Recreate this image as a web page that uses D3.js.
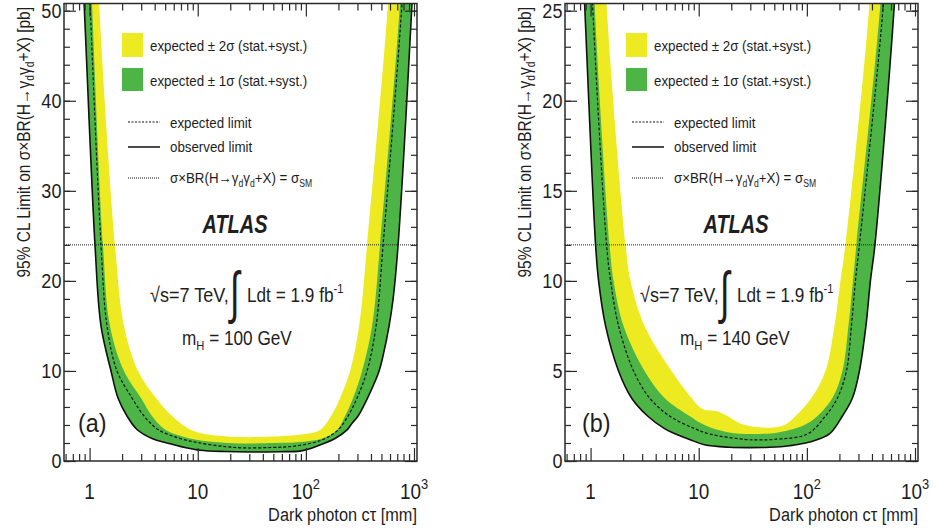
<!DOCTYPE html>
<html>
<head>
<meta charset="utf-8">
<script src="https://cdn.jsdelivr.net/npm/d3@7"></script>
<style>
body { margin: 0; background: #fff; }
svg text { font-family: "Liberation Sans", Arial, sans-serif; fill: #1e1e1e; }
</style>
</head>
<body>
<svg id="chart" width="933" height="532"></svg>
<script>
// curves are [c*tau (mm), limit (pb)]

// panel (a), m_H = 100 GeV
var obsA = [[0.80, 62], [0.888, 51], [1.122, 24], [1.275, 15], [1.578, 10], [1.831, 7], [2.218, 5], [2.745, 3.5], [3.778, 2.5], [5.2, 2.0], [7.63, 1.5], [10.5, 1.2], [17.88, 1.05], [30.46, 1.0], [57.72, 1.03], [88.36, 1.1], [104.8, 1.3], [129.7, 1.7], [186.3, 2.5], [240.5, 3.45], [267.6, 4.2], [304.1, 5], [392.6, 7.6], [475.6, 10], [517.9, 11.7], [588.5, 15], [640.9, 18], [712.7, 24], [960.3, 51], [1060, 62]];
var expA = [[0.93, 62], [1.009, 51], [1.275, 24], [1.449, 15], [1.793, 10], [2.467, 7], [3.186, 5], [4.293, 3.5], [6.862, 2.5], [10.5, 2.0], [17.88, 1.6], [27.39, 1.45], [46.65, 1.5], [71.42, 1.6], [114.1, 2.0], [150.5, 2.5], [198.6, 3.45], [245.7, 5], [297.6, 7], [368.3, 10], [446.1, 15], [517.9, 24], [776, 51], [860, 62]];
var up1A = [[0.97, 62], [1.052, 51], [1.330, 24], [1.544, 15], [2.080, 10], [2.988, 7], [3.778, 5], [4.984, 3.5], [8.487, 2.5], [14.45, 2.1], [24.62, 1.95], [51.89, 2.0], [88.36, 2.1], [141.2, 2.5], [194.4, 3.45], [230.5, 5], [273.4, 7], [331.2, 10], [409.7, 15], [485.9, 24], [743.6, 51], [820, 62]];
var up2A = [[1.12, 62], [1.222, 51], [1.718, 24], [2.080, 15], [2.804, 10], [4.114, 7], [5.785, 5], [8.487, 3.5], [11.68, 3.0], [17.88, 2.75], [30.46, 2.65], [57.72, 2.75], [98.3, 3.0], [135.3, 3.45], [171.1, 5], [207.3, 7], [256.4, 10], [310.7, 15], [368.3, 24], [576, 51], [640, 62]];
var smA = 24;

// panel (b), m_H = 140 GeV
var obsB = [[0.80, 31], [0.880, 25.4], [1.112, 12], [1.186, 10], [1.376, 7.5], [1.814, 5], [2.393, 3.5], [3.364, 2.5], [4.83, 1.8], [6.10, 1.5], [8.22, 1.2], [11.31, 0.9], [19.26, 0.76], [29.5, 0.74], [45.1, 0.76], [69.1, 0.85], [105.7, 1.05], [161.8, 1.5], [213.3, 2.5], [264, 3.5], [306.3, 5], [351.8, 7.5], [387, 10], [426, 12], [645, 25.4], [720, 31]];
var expB = [[0.97, 31], [1.043, 25.4], [1.406, 12], [1.531, 10], [1.814, 7.5], [2.497, 5], [3.511, 3.5], [5.37, 2.5], [9.15, 1.8], [12.58, 1.5], [26.5, 1.2], [36.5, 1.17], [50, 1.2], [101.3, 1.5], [148.6, 2.5], [191.8, 3.5], [232.3, 5], [258.4, 7.5], [281.3, 10], [306.3, 12], [510.6, 25.4], [580, 31]];
var up1B = [[1.02, 31], [1.089, 25.4], [1.498, 12], [1.632, 10], [2.018, 7.5], [3.156, 5], [4.83, 3.5], [8.22, 2.5], [11.31, 2.0], [18.46, 1.6], [32.8, 1.5], [55.8, 1.6], [95, 2.0], [125.3, 2.5], [172.4, 3.5], [213.3, 5], [242.4, 7.5], [266.8, 10], [287.3, 12], [478.8, 25.4], [540, 31]];
var up2B = [[1.3, 31], [1.406, 25.4], [2.106, 12], [2.343, 10], [3.156, 7.5], [5.61, 5], [8.58, 3.5], [10.17, 3.0], [11.31, 2.85], [13.13, 2.8], [14.92, 2.75], [18.46, 2.5], [23.83, 2.1], [32.8, 1.9], [45.1, 1.85], [62.1, 2.0], [78.5, 2.5], [110.3, 3.5], [148.6, 5], [179.9, 7.5], [204.4, 10], [227.5, 12], [379, 25.4], [420, 31]];
var smB = 12;

var xMajor = [1, 10, 100, 1000];
var xLabels = [["1", ""], ["10", ""], ["10", "2"], ["10", "3"]];
var xMinor = [0.6, 0.7, 0.8, 0.9, 2, 3, 4, 5, 6, 7, 8, 9, 20, 30, 40, 50, 60, 70, 80, 90, 200, 300, 400, 500, 600, 700, 800, 900];
var yMajorA = [0, 10, 20, 30, 40, 50];
var yMajorB = [0, 5, 10, 15, 20, 25];

var YELLOW = "#eeea22", GREEN = "#4db545", INK = "#2a2a2a";
var SQ = 0.86; // the original Helvetica is narrower than Liberation Sans

var svg = d3.select("#chart");
var L = 64, R = 417, T = 3.5, B = 461;

// text squeezed horizontally around its anchor
function label(parent, x, y, size, anchor, sq) {
  return parent.append("text")
    .attr("transform", "translate(" + x + "," + y + ") scale(" + (sq || SQ) + ",1)")
    .attr("font-size", size)
    .attr("text-anchor", anchor || "start");
}

function drawPanel(dx, id, cfg) {
  var g = svg.append("g").attr("transform", "translate(" + dx + ",0)");

  var x = d3.scaleLog().domain([0.58, 1066]).range([L, R]);
  var y = d3.scaleLinear().domain([0, cfg.ymax]).range([B, T]);

  g.append("clipPath").attr("id", id)
    .append("rect").attr("x", L).attr("y", T).attr("width", R - L).attr("height", B - T);

  var line = d3.line()
    .x(function(d) { return x(d[0]); })
    .y(function(d) { return y(d[1]); })
    .curve(d3.curveCatmullRom.alpha(0.5));

  function band(outer, inner) {
    return line(outer) + "L" + line(inner.slice().reverse()).substring(1) + "Z";
  }

  var plot = g.append("g").attr("clip-path", "url(#" + id + ")");
  plot.append("path").attr("d", band(cfg.obs, cfg.up2)).attr("fill", YELLOW);
  plot.append("path").attr("d", band(cfg.obs, cfg.up1)).attr("fill", GREEN);
  plot.append("path").attr("d", line(cfg.exp)).attr("fill", "none")
    .attr("stroke", "#111").attr("stroke-width", 1.2).attr("stroke-dasharray", "3,2");
  plot.append("path").attr("d", line(cfg.obs)).attr("fill", "none")
    .attr("stroke", "#111").attr("stroke-width", 1.6);
  plot.append("line").attr("x1", L).attr("x2", R)
    .attr("y1", y(cfg.sm)).attr("y2", y(cfg.sm))
    .attr("stroke", "#222").attr("stroke-width", 1).attr("stroke-dasharray", "1,1");

  // axes, ROOT style ticks inside on all four sides
  function tidy(sel) {
    sel.select(".domain").remove();
    sel.selectAll(".tick line").attr("stroke", INK).attr("stroke-width", 1.2);
  }
  g.append("g").attr("transform", "translate(0," + B + ")")
    .call(d3.axisBottom(x).tickValues(xMajor).tickSize(-13).tickFormat("")).call(tidy);
  g.append("g").attr("transform", "translate(0," + B + ")")
    .call(d3.axisBottom(x).tickValues(xMinor).tickSize(-7).tickFormat("")).call(tidy);
  g.append("g").attr("transform", "translate(0," + T + ")")
    .call(d3.axisTop(x).tickValues(xMajor).tickSize(-13).tickFormat("")).call(tidy);
  g.append("g").attr("transform", "translate(0," + T + ")")
    .call(d3.axisTop(x).tickValues(xMinor).tickSize(-7).tickFormat("")).call(tidy);

  var yl = g.append("g").attr("transform", "translate(" + L + ",0)")
    .call(d3.axisLeft(y).tickValues(cfg.yMajor).tickSize(-12).tickPadding(3)).call(tidy);
  yl.selectAll("text").attr("font-size", 21).attr("fill", "#1e1e1e")
    .attr("transform", "scale(" + SQ + ",1)")
    .style("font-family", "'Liberation Sans', Arial, sans-serif");
  g.append("g").attr("transform", "translate(" + L + ",0)")
    .call(d3.axisLeft(y).tickValues(d3.range(0, cfg.ymax, cfg.yMinorStep)).tickSize(-6).tickFormat("")).call(tidy);
  g.append("g").attr("transform", "translate(" + R + ",0)")
    .call(d3.axisRight(y).tickValues(cfg.yMajor).tickSize(-12).tickFormat("")).call(tidy);
  g.append("g").attr("transform", "translate(" + R + ",0)")
    .call(d3.axisRight(y).tickValues(d3.range(0, cfg.ymax, cfg.yMinorStep)).tickSize(-6).tickFormat("")).call(tidy);

  g.append("rect").attr("x", L).attr("y", T).attr("width", R - L).attr("height", B - T)
    .attr("fill", "none").attr("stroke", INK).attr("stroke-width", 1.5);

  // x tick labels with powers of ten
  xMajor.forEach(function(v, i) {
    var t = label(g, x(v), 499, 22, "middle");
    t.append("tspan").text(xLabels[i][0]);
    if (xLabels[i][1]) t.append("tspan").attr("dy", -10).attr("font-size", 15).text(xLabels[i][1]);
  });

  label(g, R, 521, 19, "end").text("Dark photon cτ [mm]");

  var yt = g.append("text").attr("transform", "translate(30,7) rotate(-90) scale(" + SQ + ",1)")
    .attr("text-anchor", "end").attr("font-size", 18);
  yt.append("tspan").text("95% CL Limit on σ×BR(H→γ");
  yt.append("tspan").attr("dy", 4).attr("font-size", 12).text("d");
  yt.append("tspan").attr("dy", -4).text("γ");
  yt.append("tspan").attr("dy", 4).attr("font-size", 12).text("d");
  yt.append("tspan").attr("dy", -4).text("+X) [pb]");

  // legend
  var lg = g.append("g").attr("transform", "translate(" + cfg.lx + ",0)");
  lg.append("rect").attr("x", 122).attr("y", 33).attr("width", 21).attr("height", 24).attr("fill", YELLOW);
  lg.append("rect").attr("x", 122).attr("y", 68).attr("width", 21).attr("height", 23).attr("fill", GREEN);
  label(lg, 150, 51, 15.5).text("expected ± 2σ (stat.+syst.)");
  label(lg, 150, 86, 15.5).text("expected ± 1σ (stat.+syst.)");
  lg.append("line").attr("x1", 128).attr("x2", 160).attr("y1", 122).attr("y2", 122)
    .attr("stroke", "#111").attr("stroke-width", 1).attr("stroke-dasharray", "2,1.5");
  lg.append("line").attr("x1", 128).attr("x2", 160).attr("y1", 147).attr("y2", 147)
    .attr("stroke", "#111").attr("stroke-width", 1.5);
  lg.append("line").attr("x1", 128).attr("x2", 160).attr("y1", 178).attr("y2", 178)
    .attr("stroke", "#111").attr("stroke-width", 1).attr("stroke-dasharray", "1,1");
  label(lg, 170, 128, 15.5).text("expected limit");
  label(lg, 170, 152, 15.5).text("observed limit");
  var sm = label(lg, 170, 183, 15.5);
  sm.append("tspan").text("σ×BR(H→γ");
  sm.append("tspan").attr("dy", 4).attr("font-size", 10).text("d");
  sm.append("tspan").attr("dy", -4).text("γ");
  sm.append("tspan").attr("dy", 4).attr("font-size", 10).text("d");
  sm.append("tspan").attr("dy", -4).text("+X) = σ");
  sm.append("tspan").attr("dy", 4).attr("font-size", 10).text("SM");

  label(g, 235, 233, 25, "middle", 0.8)
    .attr("font-weight", "bold").attr("font-style", "italic").text("ATLAS");

  label(g, 150 + cfg.tx, 302, 21).text("√s=7 TeV,");
  label(g, 230 + cfg.tx, 312, 57, "start", 0.62).text("∫");
  var lum = label(g, 247 + cfg.tx, 302, 20);
  lum.append("tspan").text("Ldt = 1.9 fb");
  lum.append("tspan").attr("dy", -9).attr("font-size", 13).text("-1");

  var mh = label(g, 182 + cfg.mx, 345, 20);
  mh.append("tspan").text("m");
  mh.append("tspan").attr("dy", 5).attr("font-size", 13).text("H");
  mh.append("tspan").attr("dy", -5).text(" = " + cfg.mh + " GeV");

  label(g, 78 + cfg.lx, 432, 26, "start", 0.9).text(cfg.tag);
}

drawPanel(0, "clipA", { obs: obsA, exp: expA, up1: up1A, up2: up2A, sm: smA, ymax: 50.8, yMajor: yMajorA, yMinorStep: 2, mh: 100, tag: "(a)", tx: 0, mx: 0, lx: 0 });
drawPanel(501, "clipB", { obs: obsB, exp: expB, up1: up1B, up2: up2B, sm: smB, ymax: 25.4, yMajor: yMajorB, yMinorStep: 1, mh: 140, tag: "(b)", tx: -11, mx: -3, lx: 3 });
</script>
</body>
</html>
